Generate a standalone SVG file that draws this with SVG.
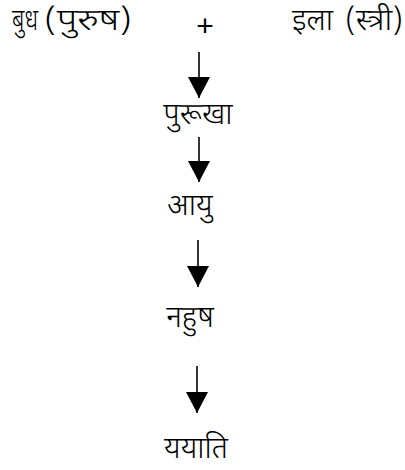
<svg xmlns="http://www.w3.org/2000/svg" width="405" height="470" viewBox="0 0 405 470">
<style>
text{font-family:"Noto Sans Devanagari","Lohit Devanagari","Noto Sans","Liberation Sans",sans-serif;font-size:30px;font-weight:300;fill:#000}
.p{font-family:"Liberation Sans",sans-serif;font-weight:400}
.c line{stroke:#000;stroke-width:1.6}
</style>
<defs>
<marker id="ah" markerUnits="userSpaceOnUse" markerWidth="22" markerHeight="22" viewBox="0 0 22 22" refX="21" refY="11" orient="auto">
<path d="M0,0 L21,11 L0,22 Z" fill="#000"/>
</marker>
</defs>
<rect width="405" height="470" fill="#fff"/>
<g id="budh"><text x="12" y="30" textLength="26" lengthAdjust="spacingAndGlyphs">बुध</text><text x="44" y="30" textLength="88" lengthAdjust="spacingAndGlyphs">(पुरुष)</text></g>
<g id="plus"><text class="p" x="205" y="36" text-anchor="middle">+</text></g>
<g id="ila"><text x="292" y="30">इला</text><text x="345" y="30" textLength="58" lengthAdjust="spacingAndGlyphs">(स्त्री)</text></g>
<g id="pururava"><text x="198" y="124" text-anchor="middle">पुरूखा</text></g>
<g id="ayu"><text x="190" y="215" text-anchor="middle">आयु</text></g>
<g id="nahush"><text x="190" y="327" text-anchor="middle">नहुष</text></g>
<g id="yayati"><text x="196" y="458" text-anchor="middle">ययाति</text></g>
<g class="c" id="connectors">
<line x1="199" y1="52" x2="199" y2="98" marker-end="url(#ah)"/>
<line x1="199" y1="137" x2="199" y2="182" marker-end="url(#ah)"/>
<line x1="198" y1="240" x2="198" y2="287" marker-end="url(#ah)"/>
<line x1="197" y1="366" x2="197" y2="413" marker-end="url(#ah)"/>
</g>
</svg>
